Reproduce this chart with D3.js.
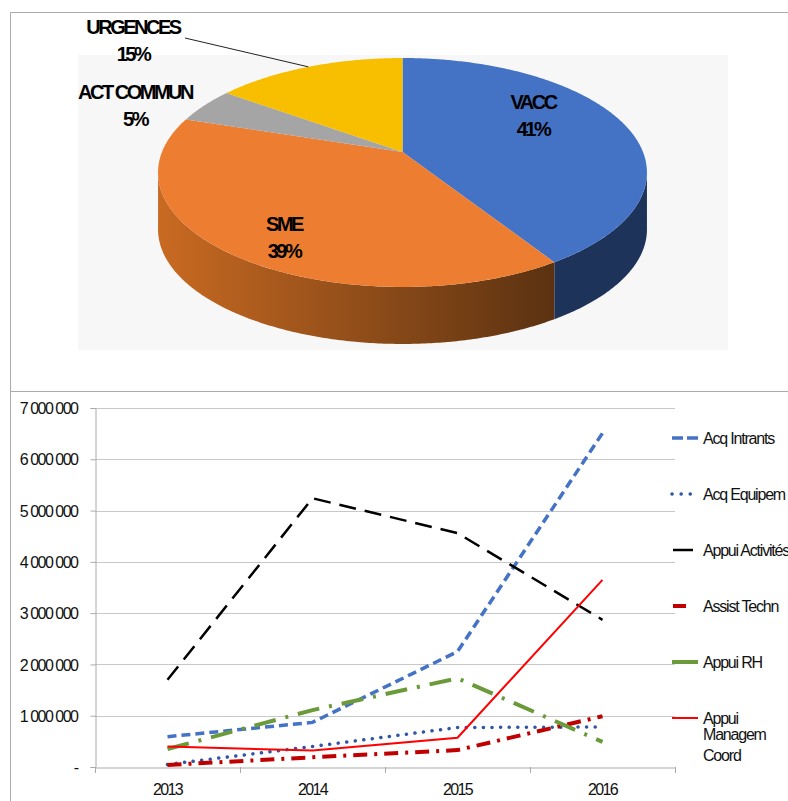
<!DOCTYPE html>
<html lang="fr">
<head>
  <meta charset="UTF-8">
  <title>Budget</title>
  <script src="https://d3js.org/d3.v7.min.js"></script>
  <style>
    body { margin: 0; background: #fff; }
    svg text { font-family: "Liberation Sans", Arial, sans-serif; }
    .plab { font-size: 20px; font-weight: bold; letter-spacing: -2.5px; fill: #000; }
    .tick text { font-size: 16px; letter-spacing: -1.5px; fill: #111; }
    .leg { font-size: 16px; letter-spacing: -1.2px; fill: #111; }
  </style>
</head>
<body>
  <div id="chart"></div>
  <script>
    // pie data
    const pieNames = ['VACC', 'SME', 'ACT COMMUN', 'URGENCES']
    const pieValues = [41, 39, 5, 15]
    const pieTop = ['#4472C4', '#ED7D31', '#A5A5A5', '#F8BE00']

    // line data
    const years = ['2013', '2014', '2015', '2016']
    const seriesNames = ['Acq Intrants', 'Acq Equipem', 'Appui Activités', 'Assist Techn', 'Appui RH', 'Appui Managem Coord']
    const acqIntrants = [590000, 870000, 2250000, 6510000]
    const acqEquipem = [50000, 400000, 770000, 780000]
    const appuiActivites = [1700000, 5240000, 4560000, 2870000]
    const assistTechn = [40000, 190000, 330000, 990000]
    const appuiRH = [350000, 1110000, 1730000, 490000]
    const appuiManagem = [400000, 320000, 570000, 3650000]
    const yTicks = [0, 1000000, 2000000, 3000000, 4000000, 5000000, 6000000, 7000000]

    const svg = d3.select('#chart').append('svg')
      .attr('width', 788)
      .attr('height', 801)

    // frames
    svg.append('path')
      .attr('d', 'M788,12.5 H10.5 V801 M10.5,391.5 H788')
      .attr('fill', 'none')
      .attr('stroke', '#aaa')

    svg.append('rect')
      .attr('x', 78).attr('y', 55)
      .attr('width', 650).attr('height', 295)
      .attr('fill', '#f7f7f7')

    // ---- 3D pie (simple perspective) ----
    const cx = 402.5, cy = 152, A = 240.5, B = 110.8, k = 0.179, depth = 57

    const pie = d3.pie().sort(null).value(d => d)
    const arcs = pie(pieValues)

    // angle from 12 o'clock, clockwise -> screen point
    const pt = (a, dy) => {
      const w = 1 + k * Math.cos(a)
      return [cx + A * Math.sin(a) / w, cy - B * Math.cos(a) / w + (dy || 0)]
    }
    const edge = (a0, a1, dy) => {
      const n = Math.max(2, Math.ceil(Math.abs(a1 - a0) / 0.01))
      return d3.range(n + 1).map(j => pt(a0 + (a1 - a0) * j / n, dy))
    }

    const defs = svg.append('defs')
    const sideGrad = [
      ['#22406e', '#1b2e52'],
      ['#c96a22', '#5b3211'],
      ['#7a7a7a', '#7a7a7a'],
      ['#b88c00', '#b88c00']
    ]
    sideGrad.forEach((g, i) => {
      const lg = defs.append('linearGradient')
        .attr('id', 'side' + i)
        .attr('gradientUnits', 'userSpaceOnUse')
        .attr('x1', cx - 245).attr('x2', cx + 150)
        .attr('y1', 0).attr('y2', 0)
      lg.append('stop').attr('offset', 0).attr('stop-color', g[0])
      lg.append('stop').attr('offset', 1).attr('stop-color', g[1])
    })

    const pieG = svg.append('g')
    const poly = d3.line()

    // side walls between the two silhouette points
    const sideStart = Math.acos(-k), sideEnd = 2 * Math.PI - Math.acos(-k)
    arcs.forEach((d, i) => {
      const s = Math.max(d.startAngle, sideStart)
      const e = Math.min(d.endAngle, sideEnd)
      if (e <= s) return
      const pts = edge(s, e).concat(edge(e, s, depth))
      pieG.append('path')
        .attr('d', poly(pts) + 'Z')
        .attr('fill', i === 0 ? '#1e335a' : 'url(#side' + i + ')')
    })

    // top faces
    arcs.forEach((d, i) => {
      const pts = [[cx, cy]].concat(edge(d.startAngle, d.endAngle))
      pieG.append('path')
        .attr('d', poly(pts) + 'Z')
        .attr('fill', pieTop[i])
    })

    // labels
    const labelPos = [[533, 109], [284, 231], [135, 99], [133, 34]]
    arcs.forEach((d, i) => {
      const t = svg.append('text')
        .attr('class', 'plab')
        .attr('text-anchor', 'middle')
      t.append('tspan').attr('x', labelPos[i][0]).attr('y', labelPos[i][1]).text(pieNames[i])
      t.append('tspan').attr('x', labelPos[i][0]).attr('y', labelPos[i][1] + 27).text(d.data + '%')
    })

    // leader line for URGENCES
    const urgPt = pt((arcs[3].startAngle + arcs[3].endAngle) / 2)
    svg.append('path')
      .attr('d', 'M185,38 L' + urgPt)
      .attr('fill', 'none')
      .attr('stroke', '#222')
      .attr('stroke-width', 1)

    // ---- line chart ----
    const x = d3.scaleBand().domain(years).range([95, 675])
    const y = d3.scaleLinear().domain([0, 7000000]).range([767, 408])

    const fmt = v => v === 0 ? '-' : d3.format(',')(v).replace(/,/g, ' ')

    // gridlines
    svg.append('g')
      .selectAll('line')
      .data(yTicks.slice(1))
      .enter().append('line')
      .attr('x1', 95).attr('x2', 675)
      .attr('y1', d => Math.round(y(d)) + 0.5)
      .attr('y2', d => Math.round(y(d)) + 0.5)
      .attr('stroke', '#c8c8c8')

    const yAxis = svg.append('g')
      .attr('transform', 'translate(95.5,0)')
      .call(d3.axisLeft(y).tickValues(yTicks).tickFormat(fmt).tickSize(5).tickPadding(13))
    yAxis.select('.domain').attr('stroke', '#aaa')
    yAxis.selectAll('.tick line').attr('stroke', '#aaa')
    yAxis.selectAll('.tick text').attr('dy', '0.35em')

    const xAxis = svg.append('g')
      .attr('transform', 'translate(0,767.5)')
      .call(d3.axisBottom(x).tickSize(0).tickPadding(16))
    xAxis.select('.domain').attr('stroke', '#aaa')
    xAxis.selectAll('.tick text').style('letter-spacing', '-1.7px')

    // category separators
    svg.append('g')
      .selectAll('line')
      .data(x.domain().map(d => x(d)).concat([x.range()[1]]))
      .enter().append('line')
      .attr('x1', d => Math.round(d) + 0.5).attr('x2', d => Math.round(d) + 0.5)
      .attr('y1', 767).attr('y2', 773)
      .attr('stroke', '#aaa')

    const series = [
      { name: seriesNames[0], values: acqIntrants, color: '#4472C4', width: 3.5, dash: '9,5', cap: 'butt', legDash: '11,4' },
      { name: seriesNames[1], values: acqEquipem, color: '#2F55A4', width: 3.5, dash: '0.1,8.5', cap: 'round', legDash: '0.1,9' },
      { name: seriesNames[2], values: appuiActivites, color: '#000000', width: 2.5, dash: '17,9', cap: 'butt', legDash: '20,10' },
      { name: seriesNames[3], values: assistTechn, color: '#C00000', width: 4, dash: '14,7,3,7', cap: 'butt', legDash: '13,20' },
      { name: seriesNames[4], values: appuiRH, color: '#6A9A3A', width: 4, dash: '22,10,3,10', cap: 'butt', legDash: null },
      { name: seriesNames[5], values: appuiManagem, color: '#FF0000', width: 2, dash: null, cap: 'butt', legDash: null }
    ]

    const line = d3.line()
      .x((d, i) => x(years[i]) + x.bandwidth() / 2)
      .y(d => y(d))

    svg.append('g')
      .selectAll('path')
      .data(series)
      .enter().append('path')
      .attr('d', d => line(d.values))
      .attr('fill', 'none')
      .attr('stroke', d => d.color)
      .attr('stroke-width', d => d.width)
      .attr('stroke-dasharray', d => d.dash)
      .attr('stroke-linecap', d => d.cap)

    // legend
    const leg = svg.append('g')
      .selectAll('g')
      .data(series)
      .enter().append('g')
      .attr('transform', (d, i) => 'translate(672,' + (438 + i * 56) + ')')

    leg.append('line')
      .attr('x1', (d, i) => i === 2 || i === 3 ? 1 : 0)
      .attr('x2', 26)
      .attr('y1', 0).attr('y2', 0)
      .attr('stroke', d => d.color)
      .attr('stroke-width', d => d.width)
      .attr('stroke-dasharray', d => d.legDash)
      .attr('stroke-linecap', d => d.cap)

    leg.append('text')
      .attr('class', 'leg')
      .attr('x', 31)
      .attr('dy', '0.35em')
      .each(function (d) {
        const words = d.name === 'Appui Managem Coord' ? ['Appui', 'Managem', 'Coord'] : [d.name]
        const t = d3.select(this)
        words.forEach((w, k) => {
          t.append('tspan').attr('x', 31).attr('y', k * 21.5).text(w)
        })
      })
  </script>
</body>
</html>
